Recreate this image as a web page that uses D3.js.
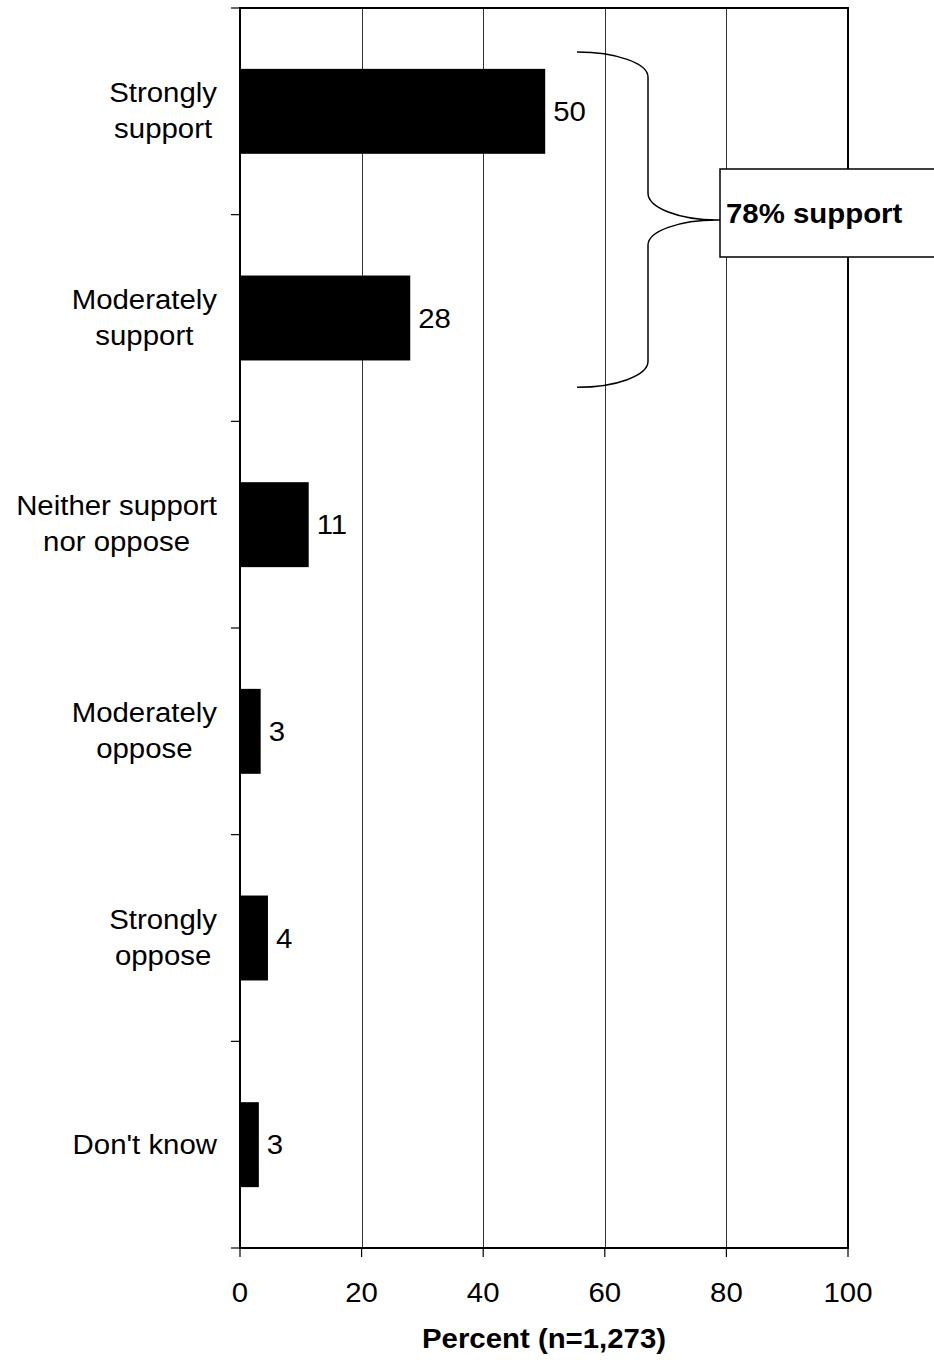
<!DOCTYPE html>
<html>
<head>
<meta charset="utf-8">
<script src="https://cdn.jsdelivr.net/npm/d3@7"></script>
<style>
  html, body { margin: 0; padding: 0; background: #fff; }
  svg { display: block; }
  text { font-family: "Liberation Sans", Arial, sans-serif; fill: #000; }
</style>
</head>
<body>
<svg id="chart" width="934" height="1360"></svg>
<script>
// ---- data ----
const categories = ["Strongly support", "Moderately support", "Neither support nor oppose",
                    "Moderately oppose", "Strongly oppose", "Don't know"];
const categoryLines = [["Strongly", "support"], ["Moderately", "support"], ["Neither support", "nor oppose"],
                       ["Moderately", "oppose"], ["Strongly", "oppose"], ["Don't know"]];
const values = [50.2, 28.0, 11.3, 3.4, 4.6, 3.1];
const valueLabels = ["50", "28", "11", "3", "4", "3"];
const xTicks = [0, 20, 40, 60, 80, 100];
const xTitle = "Percent (n=1,273)";
const annotationText = "78% support";

// ---- layout ----
const svg = d3.select("#chart");
const plot = { left: 240, right: 848, top: 8, bottom: 1248 };
const SX = 1.05; // horizontal text stretch of the original
const FS = 28;

const x = d3.scaleLinear().domain([0, 100]).range([plot.left, plot.right]);
const y = d3.scaleBand().domain(categories).range([plot.top, plot.bottom])
  .paddingInner(0.589).paddingOuter(0.2945);
const step = y.step();

function stretchedText(g, px, py, str, anchor, size, weight) {
  return g.append("text")
    .attr("transform", `translate(${px},${py}) scale(${SX},1)`)
    .attr("text-anchor", anchor)
    .attr("font-size", size)
    .attr("font-weight", weight || "normal")
    .text(str);
}

// gridlines
svg.append("g").selectAll("line")
  .data(xTicks.filter(d => d > 0 && d < 100))
  .join("line")
  .attr("x1", d => Math.round(x(d)) + 0.5).attr("x2", d => Math.round(x(d)) + 0.5)
  .attr("y1", plot.top).attr("y2", plot.bottom)
  .attr("stroke", "#333").attr("stroke-width", 1);

// bars
svg.append("g").selectAll("rect")
  .data(categories)
  .join("rect")
  .attr("x", x(0))
  .attr("y", d => y(d))
  .attr("width", (d, i) => x(values[i]) - x(0))
  .attr("height", y.bandwidth())
  .attr("fill", "#000");

// plot border
svg.append("rect")
  .attr("x", plot.left).attr("y", plot.top)
  .attr("width", plot.right - plot.left).attr("height", plot.bottom - plot.top)
  .attr("fill", "none").attr("stroke", "#000").attr("stroke-width", 2);

// left ticks at category boundaries
const boundaries = d3.range(categories.length + 1).map(i => plot.top + i * step);
svg.append("g").selectAll("line")
  .data(boundaries)
  .join("line")
  .attr("x1", plot.left - 9).attr("x2", plot.left)
  .attr("y1", d => d).attr("y2", d => d)
  .attr("stroke", "#000").attr("stroke-width", 1.2);

// bottom ticks
svg.append("g").selectAll("line")
  .data(xTicks)
  .join("line")
  .attr("x1", d => x(d)).attr("x2", d => x(d))
  .attr("y1", plot.bottom).attr("y2", plot.bottom + 9)
  .attr("stroke", "#000").attr("stroke-width", 1.2);

// x tick labels
const gx = svg.append("g");
xTicks.forEach(t => stretchedText(gx, x(t), 1302, String(t), "middle", FS));

// x title
stretchedText(svg, (plot.left + plot.right) / 2, 1348, xTitle, "middle", FS, "bold");

// value labels
const gv = svg.append("g");
categories.forEach((c, i) => {
  stretchedText(gv, x(values[i]) + 8, y(c) + y.bandwidth() / 2 + 9.5, valueLabels[i], "start", FS);
});

// category labels (centered block, right edge at 217)
const gc = svg.append("g");
categories.forEach((c, i) => {
  const lines = categoryLines[i];
  const cy = y(c) + y.bandwidth() / 2;
  const baseOf = k => lines.length === 1 ? cy + 9.5 : cy - 9.5 + k * 36;
  const texts = lines.map((ln, k) => stretchedText(gc, 0, baseOf(k), ln, "middle", FS));
  const maxW = d3.max(texts, t => t.node().getComputedTextLength()) * SX;
  const cx = 217 - maxW / 2;
  texts.forEach((t, k) => t.attr("transform", `translate(${cx},${baseOf(k)}) scale(${SX},1)`));
});

// bracket annotation
const bTop = y(categories[0]) - y.step() * y.paddingOuter() + 44;
const bBot = y(categories[1]) + y.bandwidth() + y.step() * y.paddingOuter() - 34;
const bx0 = 577, bx1 = 648, tipX = 720, tipY = 220;
const k = 0.55;
const p = d3.path();
p.moveTo(bx0, bTop);
p.bezierCurveTo(bx0 + k * (bx1 - bx0), bTop, bx1, bTop + 25 - k * 25, bx1, bTop + 25);
p.lineTo(bx1, tipY - 27);
p.bezierCurveTo(bx1, tipY - 27 + k * 27, tipX - 3 - k * 69, tipY, tipX - 3, tipY);
p.lineTo(tipX, tipY);
p.moveTo(tipX, tipY);
p.lineTo(tipX - 3, tipY);
p.bezierCurveTo(tipX - 3 - k * 69, tipY, bx1, tipY + 25 - k * 25, bx1, tipY + 25);
p.lineTo(bx1, bBot - 26);
p.bezierCurveTo(bx1, bBot - 26 + k * 26, bx0 + k * (bx1 - bx0), bBot, bx0, bBot);
svg.append("path").attr("d", p.toString())
  .attr("fill", "none").attr("stroke", "#000").attr("stroke-width", 1.5);

// annotation box
svg.append("rect")
  .attr("x", 720).attr("y", 169).attr("width", 240).attr("height", 88)
  .attr("fill", "#fff").attr("stroke", "#000").attr("stroke-width", 1.5);
stretchedText(svg, 726, 223, annotationText, "start", FS, "bold");
</script>
</body>
</html>
